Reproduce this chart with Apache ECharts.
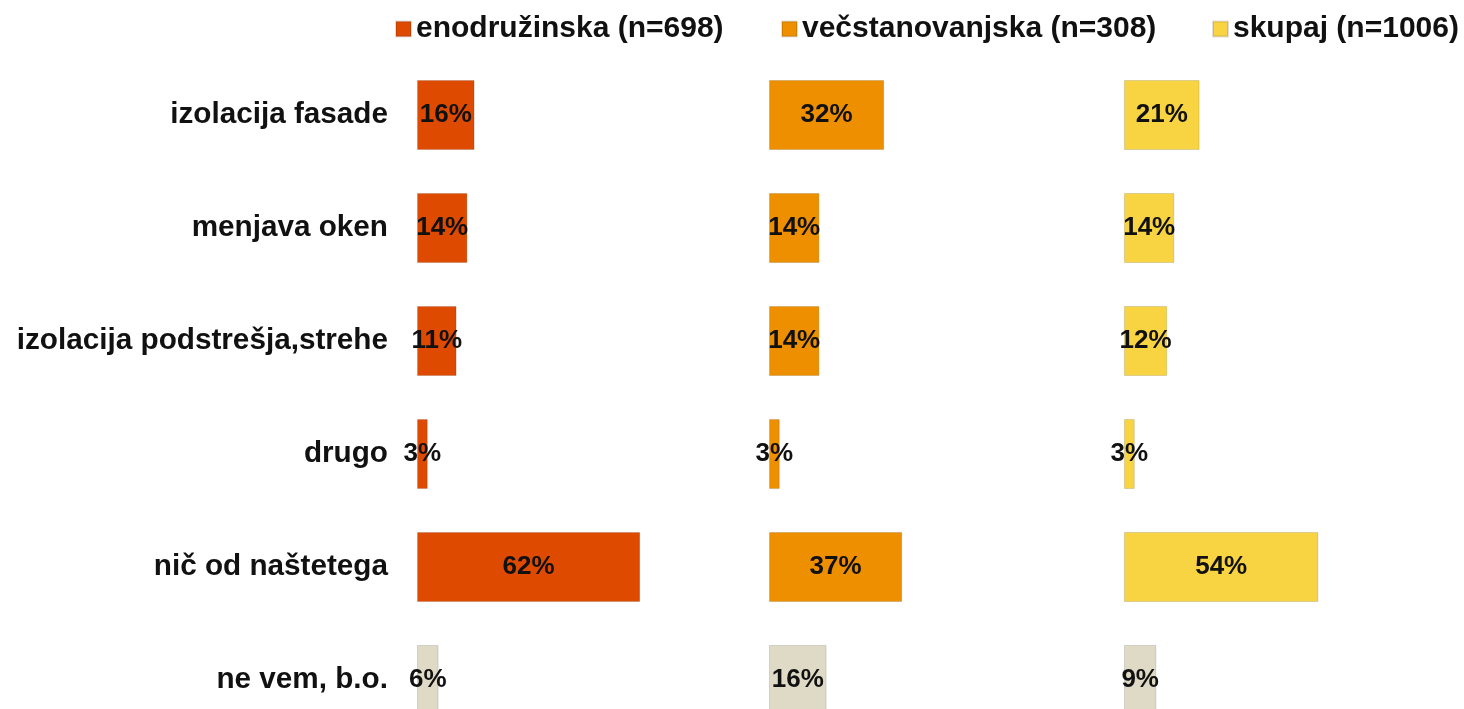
<!DOCTYPE html>
<html>
<head>
<meta charset="utf-8">
<title>Ukrepi</title>
<script src="https://cdn.jsdelivr.net/npm/echarts@6/dist/echarts.min.js"></script>
<style>
  html, body { margin: 0; padding: 0; background: #fff; overflow: hidden; }
  /* graf je višji od okna, zadnja vrstica je odrezana kot v izvirniku */
  #chart { width: 1464px; height: 760px; }
</style>
</head>
<body>
<div id="chart"></div>
<script>
// podatki
var categories = ['izolacija fasade', 'menjava oken', 'izolacija podstrešja,strehe', 'drugo', 'nič od naštetega', 'ne vem, b.o.'];
var seriesNames = ['enodružinska (n=698)', 'večstanovanjska (n=308)', 'skupaj (n=1006)'];
var enodruzinska = [16, 14, 11, 3, 62, 6];
var vecstanovanjska = [32, 14, 14, 3, 37, 16];
var skupaj = [21, 14, 12, 3, 54, 9];

var colors = ['#DE4A00', '#EE8F00', '#F9D442'];
var greyColor = '#DEDAC6';
var font = "'Liberation Sans', Arial, sans-serif";

var chart = echarts.init(document.getElementById('chart'));

var gridLefts = [417, 769, 1124];
var legendLefts = [395, 781, 1212];
var values = [enodruzinska, vecstanovanjska, skupaj];

var grids = [], xAxes = [], yAxes = [], series = [], legends = [];
for (var i = 0; i < 3; i++) {
  grids.push({ left: gridLefts[i], top: 58.5, width: 324, height: 678 });
  xAxes.push({ type: 'value', gridIndex: i, min: 0, max: 90, show: false });
  yAxes.push({
    type: 'category',
    gridIndex: i,
    inverse: true,
    data: categories,
    axisLine: { show: false },
    axisTick: { show: false },
    splitLine: { show: false },
    axisLabel: {
      show: i === 0,
      margin: 29,
      color: '#111',
      fontWeight: 'bold',
      fontSize: 29.7,
      fontFamily: font
    }
  });
  legends.push({
    left: legendLefts[i],
    top: 14,
    padding: 0,
    itemWidth: 15,
    itemHeight: 15,
    icon: 'rect',
    data: [seriesNames[i]],
    textStyle: { color: '#111', fontWeight: 'bold', fontSize: 30, fontFamily: font }
  });
  series.push({
    name: seriesNames[i],
    type: 'bar',
    xAxisIndex: i,
    yAxisIndex: i,
    barWidth: 70,
    itemStyle: { color: colors[i], borderColor: 'rgba(0,0,0,0.12)', borderWidth: 1 },
    label: {
      show: true,
      position: 'inside',
      formatter: '{c}%',
      color: '#111',
      fontWeight: 'bold',
      fontSize: 26,
      fontFamily: font
    },
    data: values[i].map(function (v, j) {
      // zadnja vrstica je siva
      if (j === categories.length - 1) {
        return { value: v, itemStyle: { color: greyColor } };
      }
      return v;
    })
  });
}

var option = {
  backgroundColor: '#fff',
  animation: false,
  legend: legends,
  grid: grids,
  xAxis: xAxes,
  yAxis: yAxes,
  series: series
};

chart.setOption(option);
window.addEventListener('resize', function () {
  chart.resize();
});
</script>
</body>
</html>
